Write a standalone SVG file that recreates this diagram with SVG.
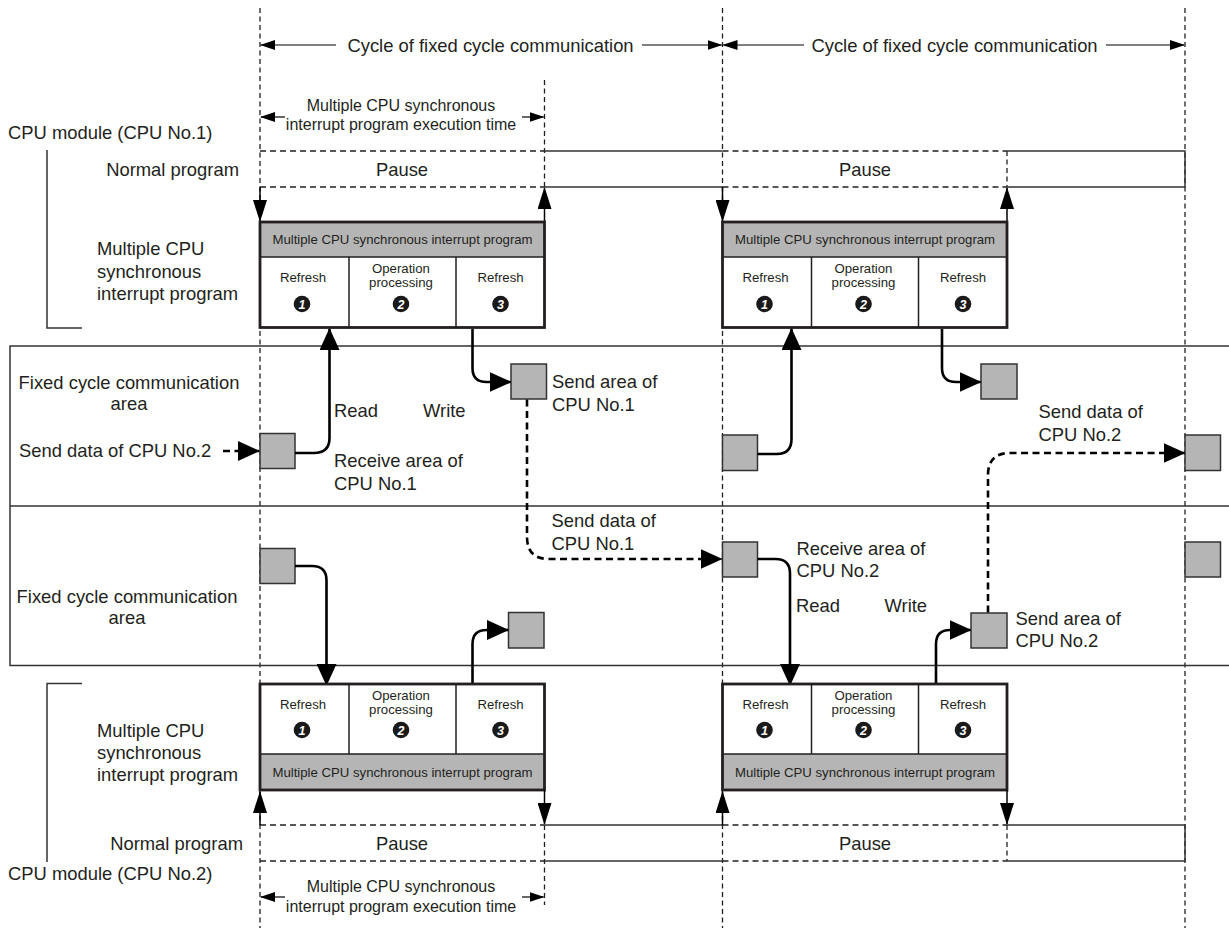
<svg xmlns="http://www.w3.org/2000/svg" width="1229" height="928" viewBox="0 0 1229 928">
<style>
text{font-family:"Liberation Sans",Arial,sans-serif;fill:#231f20}
.l{font-size:18.4px}
.m{font-size:16px}
.s{font-size:13.2px}
.c{text-anchor:middle}
.e{text-anchor:end}
.dv{stroke:#231f20;stroke-width:1.3;stroke-dasharray:5 3.5;fill:none}
.dh{stroke:#231f20;stroke-width:1.3;stroke-dasharray:6 4;fill:none}
.sl{stroke:#333;stroke-width:1.5;fill:none}
.cell{fill:#fff}
.hdr{fill:#b5b5b5}
.out{fill:none;stroke:#231f20;stroke-width:2.8}
.div{stroke:#231f20;stroke-width:1.5}
.sq{fill:#b5b5b5;stroke:#333;stroke-width:1.5}
.cn{fill:none;stroke:#000;stroke-width:2.6}
.cd{fill:none;stroke:#000;stroke-width:2.6;stroke-dasharray:7 4.5}
.pa{stroke:#000;stroke-width:1.5;fill:none}
.ar{stroke:#000;stroke-width:1.2;fill:none}
.num{fill:#1a1a1a}
.dg{fill:#fff;font-size:12.5px;font-weight:bold;font-style:italic;text-anchor:middle}
</style>
<defs>
<marker id="ah" markerUnits="userSpaceOnUse" markerWidth="22" markerHeight="20" refX="21" refY="10" orient="auto"><path d="M0,0L22,10L0,20z" fill="#000"/></marker>
<marker id="ap" markerUnits="userSpaceOnUse" markerWidth="22" markerHeight="14" refX="21" refY="7" orient="auto"><path d="M0,0L22,7L0,14z" fill="#000"/></marker>
<marker id="as" markerUnits="userSpaceOnUse" markerWidth="15" markerHeight="10" refX="14" refY="5" orient="auto"><path d="M0,0L15,5L0,10z" fill="#000"/></marker>
</defs>
<rect width="1229" height="928" fill="#fff"/>

<g id="timeline-grid">
<path class="dv" d="M260,8V928M722.5,8V928M1185,8V928M544.5,80V187M544.5,825V905M1007,151V187M1007,825V861"/>
</g>

<g id="cycle-arrows">
<path class="ar" d="M336,45H261" marker-end="url(#as)"/>
<path class="ar" d="M642,45H721.5" marker-end="url(#as)"/>
<path class="ar" d="M804,45H723.5" marker-end="url(#as)"/>
<path class="ar" d="M1106,45H1184" marker-end="url(#as)"/>
<text class="l c" x="490.5" y="51.5">Cycle of fixed cycle communication</text>
<text class="l c" x="954.5" y="51.5">Cycle of fixed cycle communication</text>
</g>

<g id="exec-time-top">
<path class="ar" d="M285,117H261" marker-end="url(#as)"/>
<path class="ar" d="M522,117H543.5" marker-end="url(#as)"/>
<text class="m c" x="401" y="110.5">Multiple CPU synchronous</text>
<text class="m c" x="401" y="129.5">interrupt program execution time</text>
</g>

<g id="cpu1-labels">
<text class="l" x="8" y="139">CPU module (CPU No.1)</text>
<path class="sl" d="M82,328H47V150"/>
<text class="l e" x="239" y="175.5">Normal program</text>
<text class="l" x="97" y="255">Multiple CPU</text>
<text class="l" x="97" y="277.5">synchronous</text>
<text class="l" x="97" y="300">interrupt program</text>
</g>

<g id="cpu1-normal-program">
<path class="dh" d="M260,151H544.5M260,187H544.5M722.5,151H1007M722.5,187H1007"/>
<path class="sl" d="M544.5,151H722.5M544.5,187H722.5M1007,151H1185V187H1007"/>
<text class="l c" x="402" y="175.5">Pause</text>
<text class="l c" x="865" y="175.5">Pause</text>
<path class="pa" d="M260,187V221" marker-end="url(#ap)"/>
<path class="pa" d="M544.5,222V188" marker-end="url(#ap)"/>
<path class="pa" d="M722.5,187V221" marker-end="url(#ap)"/>
<path class="pa" d="M1007,222V188" marker-end="url(#ap)"/>
</g>

<g id="cpu1-box1">
<rect class="cell" x="260" y="222" width="284.5" height="105.5"/>
<rect class="hdr" x="260" y="222" width="284.5" height="35"/>
<path class="div" d="M260,257H544.5M349,257V327.5M456,257V327.5"/>
<rect class="out" x="260" y="222" width="284.5" height="105.5"/>
<text class="s c" x="402.5" y="244">Multiple CPU synchronous interrupt program</text>
<text class="s c" x="303" y="281.5">Refresh</text>
<text class="s c" x="401" y="272.5">Operation</text>
<text class="s c" x="401" y="287">processing</text>
<text class="s c" x="500.5" y="281.5">Refresh</text>
<circle class="num" cx="302" cy="304" r="8.3"/><text class="dg" x="302" y="308.5">1</text>
<circle class="num" cx="401" cy="304" r="8.3"/><text class="dg" x="401" y="308.5">2</text>
<circle class="num" cx="500.5" cy="304" r="8.3"/><text class="dg" x="500.5" y="308.5">3</text>
</g>

<g id="cpu1-box2">
<rect class="cell" x="722.5" y="222" width="284.5" height="105.5"/>
<rect class="hdr" x="722.5" y="222" width="284.5" height="35"/>
<path class="div" d="M722.5,257H1007M811.5,257V327.5M918.5,257V327.5"/>
<rect class="out" x="722.5" y="222" width="284.5" height="105.5"/>
<text class="s c" x="865" y="244">Multiple CPU synchronous interrupt program</text>
<text class="s c" x="765.5" y="281.5">Refresh</text>
<text class="s c" x="863.5" y="272.5">Operation</text>
<text class="s c" x="863.5" y="287">processing</text>
<text class="s c" x="963" y="281.5">Refresh</text>
<circle class="num" cx="764.5" cy="304" r="8.3"/><text class="dg" x="764.5" y="308.5">1</text>
<circle class="num" cx="863.5" cy="304" r="8.3"/><text class="dg" x="863.5" y="308.5">2</text>
<circle class="num" cx="963" cy="304" r="8.3"/><text class="dg" x="963" y="308.5">3</text>
</g>

<g id="comm-bands">
<path class="sl" d="M1229,346H10V665.5H1229M10,506H1229"/>
<text class="l c" x="129" y="388.5">Fixed cycle communication</text>
<text class="l c" x="129" y="409.5">area</text>
<text class="l c" x="127" y="603">Fixed cycle communication</text>
<text class="l c" x="127" y="624">area</text>
</g>

<g id="squares">
<rect id="sq-recv1-a" class="sq" x="260" y="433.5" width="35" height="35"/>
<rect id="sq-send1-a" class="sq" x="511" y="364" width="35.5" height="35"/>
<rect id="sq-recv2-b" class="sq" x="722.5" y="542" width="35" height="35"/>
<rect id="sq-recv2-a" class="sq" x="260" y="548.5" width="35" height="35"/>
<rect id="sq-send2-a" class="sq" x="508.5" y="612.5" width="35.5" height="35.5"/>
<rect id="sq-send1-b" class="sq" x="981" y="364" width="36" height="35"/>
<rect id="sq-recv1-b" class="sq" x="722.5" y="435" width="35" height="35.5"/>
<rect id="sq-recv1-c" class="sq" x="1185" y="435" width="35.5" height="35.5"/>
<rect id="sq-send2-b" class="sq" x="971" y="613" width="36" height="35"/>
<rect id="sq-recv2-c" class="sq" x="1185" y="542" width="35.5" height="35"/>
</g>

<g id="connectors">
<path class="cd" d="M223,451H259" marker-end="url(#ah)"/>
<path class="cn" d="M295,453H314Q329.5,453 329.5,438V329" marker-end="url(#ah)"/>
<path class="cn" d="M472.5,329V368Q472.5,382 486.5,382H510.5" marker-end="url(#ah)"/>
<path class="cd" d="M527,399.5V537Q527,559 549,559H721.5" marker-end="url(#ah)"/>
<path class="cn" d="M295,566H312Q326.5,566 326.5,580.5V685" marker-end="url(#ah)"/>
<path class="cn" d="M472.5,683V644Q472.5,630 486.5,630H508" marker-end="url(#ah)"/>
<path class="cn" d="M757.5,454H777Q791.5,454 791.5,439V329" marker-end="url(#ah)"/>
<path class="cn" d="M942,329V368Q942,382 956,382H980.5" marker-end="url(#ah)"/>
<path class="cd" d="M988,612.5V475Q988,453 1010,453H1184.5" marker-end="url(#ah)"/>
<path class="cn" d="M757.5,559H775.5Q790,559 790,573.5V685" marker-end="url(#ah)"/>
<path class="cn" d="M936,683V644Q936,630 950,630H970.5" marker-end="url(#ah)"/>
</g>

<g id="connector-labels">
<text class="l" x="19" y="456.5">Send data of CPU No.2</text>
<text class="l" x="334" y="416.5">Read</text>
<text class="l" x="423" y="416.5">Write</text>
<text class="l" x="334" y="467">Receive area of</text>
<text class="l" x="334" y="490">CPU No.1</text>
<text class="l" x="552" y="388">Send area of</text>
<text class="l" x="552" y="410.5">CPU No.1</text>
<text class="l" x="551.5" y="527">Send data of</text>
<text class="l" x="551.5" y="550">CPU No.1</text>
<text class="l" x="796.5" y="555">Receive area of</text>
<text class="l" x="796.5" y="577">CPU No.2</text>
<text class="l" x="796" y="611.5">Read</text>
<text class="l" x="884.5" y="611.5">Write</text>
<text class="l" x="1015.5" y="625">Send area of</text>
<text class="l" x="1015.5" y="646.5">CPU No.2</text>
<text class="l" x="1038.5" y="418">Send data of</text>
<text class="l" x="1038.5" y="441">CPU No.2</text>
</g>

<g id="cpu2-box1">
<rect class="cell" x="260" y="684" width="284.5" height="106"/>
<rect class="hdr" x="260" y="754" width="284.5" height="36"/>
<path class="div" d="M260,754H544.5M349,684V754M456,684V754"/>
<rect class="out" x="260" y="684" width="284.5" height="106"/>
<text class="s c" x="402.5" y="776.5">Multiple CPU synchronous interrupt program</text>
<text class="s c" x="303" y="708.5">Refresh</text>
<text class="s c" x="401" y="699.5">Operation</text>
<text class="s c" x="401" y="714">processing</text>
<text class="s c" x="500.5" y="708.5">Refresh</text>
<circle class="num" cx="302" cy="730" r="8.3"/><text class="dg" x="302" y="734.5">1</text>
<circle class="num" cx="401" cy="730" r="8.3"/><text class="dg" x="401" y="734.5">2</text>
<circle class="num" cx="500.5" cy="730" r="8.3"/><text class="dg" x="500.5" y="734.5">3</text>
</g>

<g id="cpu2-box2">
<rect class="cell" x="722.5" y="684" width="284.5" height="106"/>
<rect class="hdr" x="722.5" y="754" width="284.5" height="36"/>
<path class="div" d="M722.5,754H1007M811.5,684V754M918.5,684V754"/>
<rect class="out" x="722.5" y="684" width="284.5" height="106"/>
<text class="s c" x="865" y="776.5">Multiple CPU synchronous interrupt program</text>
<text class="s c" x="765.5" y="708.5">Refresh</text>
<text class="s c" x="863.5" y="699.5">Operation</text>
<text class="s c" x="863.5" y="714">processing</text>
<text class="s c" x="963" y="708.5">Refresh</text>
<circle class="num" cx="764.5" cy="730" r="8.3"/><text class="dg" x="764.5" y="734.5">1</text>
<circle class="num" cx="863.5" cy="730" r="8.3"/><text class="dg" x="863.5" y="734.5">2</text>
<circle class="num" cx="963" cy="730" r="8.3"/><text class="dg" x="963" y="734.5">3</text>
</g>

<g id="cpu2-normal-program">
<path class="dh" d="M260,825H544.5M260,861H544.5M722.5,825H1007M722.5,861H1007"/>
<path class="sl" d="M544.5,825H722.5M544.5,861H722.5M1007,825H1185V861H1007"/>
<text class="l c" x="402" y="850">Pause</text>
<text class="l c" x="865" y="850">Pause</text>
<path class="pa" d="M260,825V792" marker-end="url(#ap)"/>
<path class="pa" d="M544.5,790V824" marker-end="url(#ap)"/>
<path class="pa" d="M722.5,825V792" marker-end="url(#ap)"/>
<path class="pa" d="M1007,790V824" marker-end="url(#ap)"/>
</g>

<g id="cpu2-labels">
<path class="sl" d="M82,683.5H47V862"/>
<text class="l" x="97" y="736.5">Multiple CPU</text>
<text class="l" x="97" y="758.5">synchronous</text>
<text class="l" x="97" y="781">interrupt program</text>
<text class="l e" x="243" y="850">Normal program</text>
<text class="l" x="8" y="880">CPU module (CPU No.2)</text>
</g>

<g id="exec-time-bottom">
<path class="ar" d="M285,897H261" marker-end="url(#as)"/>
<path class="ar" d="M522,897H543.5" marker-end="url(#as)"/>
<text class="m c" x="401" y="892">Multiple CPU synchronous</text>
<text class="m c" x="401" y="911.5">interrupt program execution time</text>
</g>
</svg>
